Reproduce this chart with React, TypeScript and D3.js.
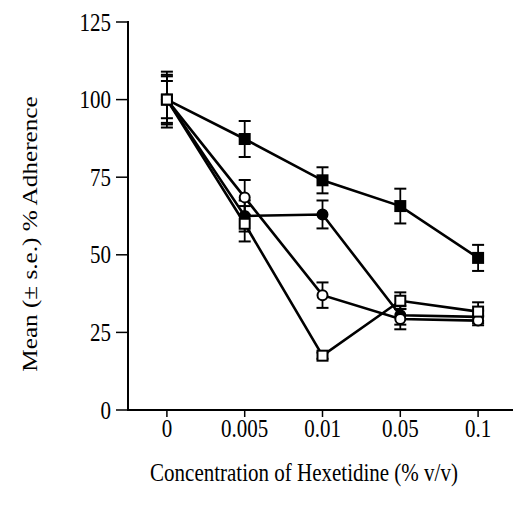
import React, { useRef, useEffect } from "react";
import * as d3 from "d3";

// concentrations of hexetidine (% v/v)
const concentrations = ["0", "0.005", "0.01", "0.05", "0.1"];
const yTicks = [0, 25, 50, 75, 100, 125];

// mean % adherence and s.e. for each of the four series
const filledSquareMean = [100, 87.3, 74, 65.7, 49];
const filledSquareSE = [9, 5.8, 4.2, 5.6, 4.2];
const filledCircleMean = [100, 62.5, 63, 30.5, 30];
const filledCircleSE = [7.5, 5, 4.5, 3, 2];
const openCircleMean = [100, 68.5, 37, 29.3, 28.8];
const openCircleSE = [6, 5.6, 4.1, 3.3, 1.5];
const openSquareMean = [100, 60, 17.5, 35.2, 31.7];
const openSquareSE = [8, 5.7, 1, 2.7, 3];

type Series = { mean: number[]; se: number[]; shape: "square" | "circle"; filled: boolean };

const series: Series[] = [
  { mean: filledSquareMean, se: filledSquareSE, shape: "square", filled: true },
  { mean: filledCircleMean, se: filledCircleSE, shape: "circle", filled: true },
  { mean: openCircleMean, se: openCircleSE, shape: "circle", filled: false },
  { mean: openSquareMean, se: openSquareSE, shape: "square", filled: false },
];

const W = 513;
const H = 510;
const FONT = "'Liberation Serif', 'Times New Roman', serif";
const SY = 1.2; // the scan is stretched vertically

export default function App() {
  const svgRef = useRef<SVGSVGElement>(null);

  useEffect(() => {
    const svg = d3.select(svgRef.current);
    svg.selectAll("*").remove();

    const x = d3.scalePoint<string>().domain(concentrations).range([128, 517]).padding(0.5);
    const y = d3.scaleLinear().domain([0, 125]).range([410, 22]);

    // axes
    svg.append("line")
      .attr("x1", 128).attr("x2", 128)
      .attr("y1", y(125) - 1).attr("y2", y(0) + 1)
      .attr("stroke", "#000").attr("stroke-width", 2);
    svg.append("line")
      .attr("x1", 127).attr("x2", W)
      .attr("y1", y(0)).attr("y2", y(0))
      .attr("stroke", "#000").attr("stroke-width", 2);

    yTicks.forEach((t) => {
      svg.append("line")
        .attr("x1", 116).attr("x2", 128)
        .attr("y1", y(t)).attr("y2", y(t))
        .attr("stroke", "#000").attr("stroke-width", 1.5);
      svg.append("text")
        .attr("transform", `translate(111,${y(t)}) scale(1,${SY})`)
        .attr("dy", "0.34em")
        .attr("text-anchor", "end")
        .style("font-family", FONT)
        .style("font-size", "21px")
        .text(t);
    });

    concentrations.forEach((c) => {
      const cx = x(c)!;
      svg.append("line")
        .attr("x1", cx).attr("x2", cx)
        .attr("y1", y(0)).attr("y2", y(0) + 7)
        .attr("stroke", "#000").attr("stroke-width", 1.5);
      svg.append("text")
        .attr("transform", `translate(${cx},437) scale(1,${SY})`)
        .attr("text-anchor", "middle")
        .style("font-family", FONT)
        .style("font-size", "21px")
        .text(c);
    });

    svg.append("text")
      .attr("transform", `translate(304,481) scale(1,${SY})`)
      .attr("text-anchor", "middle")
      .style("font-family", FONT)
      .style("font-size", "21px")
      .text("Concentration of Hexetidine (% v/v)");

    svg.append("text")
      .attr("transform", `translate(37,234) rotate(-90) scale(${SY},1)`)
      .attr("text-anchor", "middle")
      .style("font-family", FONT)
      .style("font-size", "21px")
      .text("Mean (\u00b1 s.e.) % Adherence");

    const line = d3.line<number>()
      .x((_, i) => x(concentrations[i])!)
      .y((d) => y(d));

    series.forEach((s) => {
      svg.append("path")
        .datum(s.mean)
        .attr("d", line)
        .attr("fill", "none")
        .attr("stroke", "#000")
        .attr("stroke-width", 2.6);
    });

    series.forEach((s) => {
      const g = svg.append("g");
      s.mean.forEach((m, i) => {
        const cx = x(concentrations[i])!;
        const hi = y(m + s.se[i]);
        const lo = y(m - s.se[i]);
        g.append("line")
          .attr("x1", cx).attr("x2", cx).attr("y1", hi).attr("y2", lo)
          .attr("stroke", "#000").attr("stroke-width", 1.8);
        [hi, lo].forEach((yy) => {
          g.append("line")
            .attr("x1", cx - 6).attr("x2", cx + 6).attr("y1", yy).attr("y2", yy)
            .attr("stroke", "#000").attr("stroke-width", 2);
        });
      });
    });

    series.forEach((s) => {
      s.mean.forEach((m, i) => {
        const cx = x(concentrations[i])!;
        const cy = y(m);
        if (s.shape === "square") {
          svg.append("rect")
            .attr("x", cx - 5).attr("y", cy - 5)
            .attr("width", 10).attr("height", 10)
            .attr("fill", s.filled ? "#000" : "#fff")
            .attr("stroke", "#000").attr("stroke-width", 2);
        } else {
          svg.append("circle")
            .attr("cx", cx).attr("cy", cy).attr("r", 5)
            .attr("fill", s.filled ? "#000" : "#fff")
            .attr("stroke", "#000").attr("stroke-width", 2);
        }
      });
    });
  }, []);

  return (
    <svg
      ref={svgRef}
      width={W}
      height={H}
      style={{ position: "absolute", left: 0, top: 0, background: "#fff" }}
    />
  );
}
